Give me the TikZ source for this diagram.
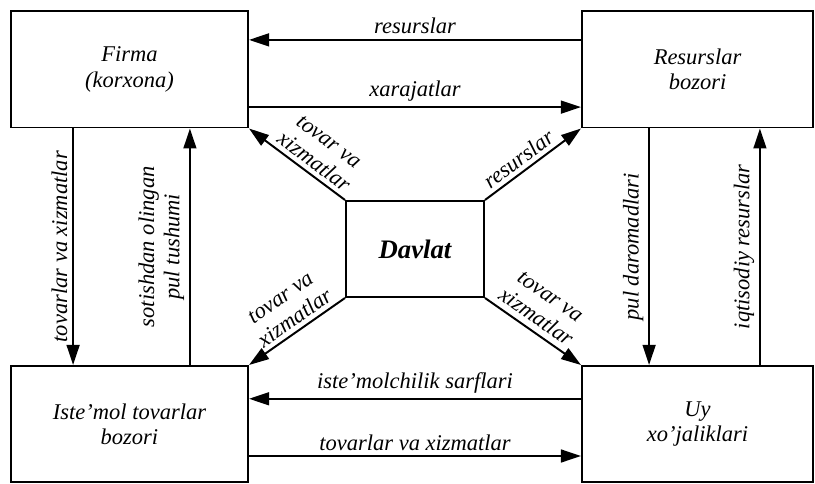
\documentclass[tikz,border=0pt]{standalone}
\usepackage{fontspec}
\setmainfont{Liberation Serif}
\usetikzlibrary{arrows.meta}

\tikzset{
  box/.style={draw, line width=1.4pt, minimum height=2.9cm, align=center,
    font=\itshape\fontsize{16}{18}\selectfont},
  flow/.style={line width=1.4pt, -{Triangle[length=5mm,width=3.2mm]}},
  flowback/.style={line width=1.4pt, {Triangle[length=5mm,width=3.2mm]}-},
  lbl/.style={font=\itshape\fontsize{16}{18}\selectfont, align=center}
}

\begin{document}
\begin{tikzpicture}[x=0.025cm,y=0.025cm]
\useasboundingbox (0,0) rectangle (815,484);

% Markets, firms and households
\node[box, minimum width=5.925cm] (firma) at (129.5,414.5) {Firma\\(korxona)};
\node[box, minimum width=5.775cm] (resbozor) at (697.5,414.5) {Resurslar\\bozori};
\node[box, minimum width=5.925cm] (istemol) at (129.5,60) {Iste'mol tovarlar\\bozori};
\node[box, minimum width=5.775cm] (uy) at (697.5,60) {Uy\\xo'jaliklari};

% State in the middle
\node[box, minimum width=3.45cm, minimum height=2.4cm,
  font=\bfseries\itshape\fontsize{19}{22}\selectfont] (davlat) at (415,235) {Davlat};

% Top flows
\draw[flow] ([yshift=0.74cm]resbozor.west) -- node[lbl, above] {resurslar} ([yshift=0.74cm]firma.east);
\draw[flow] ([yshift=-0.94cm]firma.east) -- node[lbl, above] {xarajatlar} ([yshift=-0.94cm]resbozor.west);

% Bottom flows
\draw[flow] ([yshift=0.63cm]uy.west) -- node[lbl, above] {iste'molchilik sarflari} ([yshift=0.63cm]istemol.east);
\draw[flow] ([yshift=-0.8cm]istemol.east) -- node[lbl, above] {tovarlar va xizmatlar} ([yshift=-0.8cm]uy.west);

% Left side
\draw[flow] ([xshift=-1.41cm]firma.south) -- node[lbl, rotate=90, anchor=south] {tovarlar va xizmatlar} ([xshift=-1.41cm]istemol.north);
\draw[flow] ([xshift=1.51cm]istemol.north) -- node[lbl, rotate=90, anchor=south] {sotishdan olingan\\pul tushumi} ([xshift=1.51cm]firma.south);

% Right side
\draw[flow] ([xshift=-1.21cm]resbozor.south) -- node[lbl, rotate=90, anchor=south] {pul daromadlari} ([xshift=-1.21cm]uy.north);
\draw[flow] ([xshift=1.56cm]uy.north) -- node[lbl, rotate=90, anchor=south] {iqtisodiy resurslar} ([xshift=1.56cm]resbozor.south);

% Diagonals from the state
\draw[flowback] (firma.south east) -- node[lbl, sloped, above, pos=0.6, inner sep=3pt] {tovar va\\xizmatlar} (davlat.north west);
\draw[flow] (davlat.north east) -- node[lbl, sloped, above, pos=0.43, inner sep=3pt] {resurslar} (resbozor.south west);
\draw[flowback] (istemol.north east) -- node[lbl, sloped, above, pos=0.55, inner sep=3pt] {tovar va\\xizmatlar} (davlat.south west);
\draw[flow] (davlat.south east) -- node[lbl, sloped, above, pos=0.45, inner sep=4pt] {tovar va\\xizmatlar} (uy.north west);

\end{tikzpicture}
\end{document}
